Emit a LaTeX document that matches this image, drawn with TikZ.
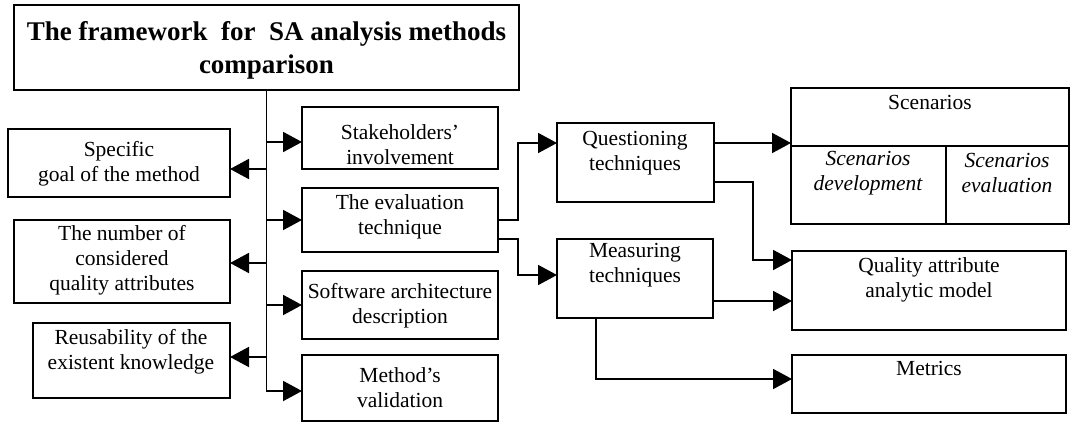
\documentclass[tikz,border=0pt]{standalone}
\usepackage{fontspec}
\setmainfont{Liberation Serif}
\usetikzlibrary{arrows.meta}
\begin{document}
\begin{tikzpicture}[x=1pt,y=-1pt,
  box/.style={draw,line width=1.9pt,inner sep=0pt,minimum width=#1},
  txt/.style={inner sep=0pt,align=center,font=\fontsize{21.5}{25}\selectfont},
  ttl/.style={inner sep=0pt,align=center,font=\fontsize{27}{33}\selectfont\bfseries},
  ln/.style={line width=1.9pt},
  arr/.style={line width=1.9pt,-{Triangle[length=19pt,width=20pt]}}]
\useasboundingbox (0,0) rectangle (1071,421);
% boxes
\node[box=505pt,minimum height=85pt] (title) at (266.5,47.5) {};
\node[box=196pt,minimum height=62pt] (stake) at (400,138) {};
\node[box=196pt,minimum height=64pt] (evalt) at (400,220) {};
\node[box=196pt,minimum height=68pt] (swarch) at (400,305) {};
\node[box=196pt,minimum height=66pt] (valid) at (400,388) {};
\node[box=222pt,minimum height=68pt] (goal) at (119,163) {};
\node[box=216pt,minimum height=83pt] (numq) at (122,261.5) {};
\node[box=197pt,minimum height=75pt] (reuse) at (131.5,360.5) {};
\node[box=157pt,minimum height=79pt] (quest) at (635.5,162.5) {};
\node[box=156pt,minimum height=79pt] (meas) at (635,278.5) {};
\node[box=278pt,minimum height=136pt] (scen) at (930,156) {};
\node[box=274pt,minimum height=79pt] (qa) at (929,290.5) {};
\node[box=274pt,minimum height=58pt] (metr) at (929,384) {};
% scenario inner divisions
\coordinate (shl) at (791,146);
\coordinate (shr) at (1069,146);
\coordinate (dvt) at (946,146);
\draw[ln] (shl) -- (shr);
\draw[ln] (dvt) -- (dvt |- scen.south);
% texts
\node[ttl] (ttitle) at (266.5,50) {The framework\ \ for\ \ SA analysis methods\\comparison};
\node[txt] (tstake) at (400,145) {Stakeholders'\\involvement};
\node[txt] (tevalt) at (400,217) {The evaluation\\technique};
\node[txt] (tswarch) at (400,306) {Software architecture\\description};
\node[txt] (tvalid) at (400,388) {Method's\\validation};
\node[txt] (tgoal) at (119,164) {Specific\\goal of the method};
\node[txt] (tnumq) at (122,260) {The number of\\considered\\quality attributes};
\node[txt] (treuse) at (131,352) {Reusability of the\\existent knowledge};
\node[txt] (tquest) at (635,153) {Questioning\\techniques};
\node[txt] (tmeas) at (635,265) {Measuring\\techniques};
\node[txt] (tscen) at (930,102) {Scenarios};
\node[txt,font=\fontsize{21.5}{25}\selectfont\itshape] (tdev) at (868,173) {Scenarios\\development};
\node[txt,font=\fontsize{21.5}{25}\selectfont\itshape] (tsev) at (1007,173) {Scenarios\\evaluation};
\node[txt] (tqa) at (929,280) {Quality attribute\\analytic model};
\node[txt] (tmetr) at (929,368) {Metrics};
% connector end points
\coordinate (sin) at (302,142);
\coordinate (ein) at (302,220);
\coordinate (win) at (302,305);
\coordinate (vin) at (302,391);
\coordinate (gin) at (230,169);
\coordinate (nin) at (230,263);
\coordinate (rin) at (230,357);
\coordinate (eo1) at (498,220);
\coordinate (eo2) at (498,239);
\coordinate (qin) at (557,143);
\coordinate (min) at (557,275);
\coordinate (qo1) at (714,143);
\coordinate (qo2) at (714,182);
\coordinate (scin) at (791,143);
\coordinate (qain1) at (792,260);
\coordinate (mo1) at (713,301);
\coordinate (qain2) at (792,301);
\coordinate (mo2) at (596,318);
\coordinate (mtin) at (792,379);
% connectors
\draw[arr] (title.south) |- (vin);
\draw[arr] (title.south |- sin) -- (sin);
\draw[arr] (title.south |- ein) -- (ein);
\draw[arr] (title.south |- win) -- (win);
\draw[arr] (title.south |- gin) -- (gin);
\draw[arr] (title.south |- nin) -- (nin);
\draw[arr] (title.south |- rin) -- (rin);
\draw[arr] (eo1) -- ++(20,0) |- (qin);
\draw[arr] (eo2) -- ++(20,0) |- (min);
\draw[arr] (qo1) -- (scin);
\draw[arr] (qo2) -- ++(39,0) |- (qain1);
\draw[arr] (mo1) -- (qain2);
\draw[arr] (mo2) |- (mtin);
\end{tikzpicture}
\end{document}
